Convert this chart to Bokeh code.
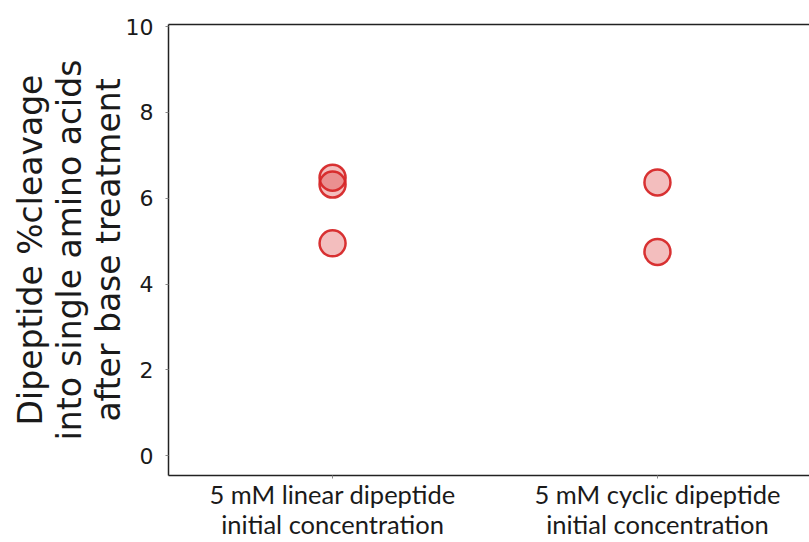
from bokeh.plotting import figure
from bokeh.models import FixedTicker, LinearAxis, Range1d
from bokeh.embed import file_html
from bokeh.resources import INLINE

# ---- data ----
categories = ["5 mM linear dipeptide\ninitial concentration",
              "5 mM cyclic dipeptide\ninitial concentration"]
category_pos = [0, 1]
linear_vals = [6.48, 6.32, 4.95]
cyclic_vals = [6.37, 4.75]
y_ticks = [0, 2, 4, 6, 8, 10]
y_title = "Dipeptide %cleavage\ninto single amino acids\nafter base treatment"

RED = "#d62728"
INK = "#1a1a1a"

p = figure(width=809, height=542, output_backend="svg", toolbar_location=None,
           x_range=Range1d(-0.505, 1.468), y_range=Range1d(-0.46, 10.05),
           min_border_left=168, min_border_right=0, min_border_top=24,
           min_border_bottom=65)
p.outline_line_color = None
p.grid.visible = False
p.background_fill_color = "white"
p.border_fill_color = "white"

xs = [category_pos[0]] * len(linear_vals) + [category_pos[1]] * len(cyclic_vals)
ys = linear_vals + cyclic_vals
p.scatter(xs, ys, size=26, fill_color=RED, fill_alpha=0.3,
          line_color=RED, line_alpha=0.95, line_width=2.5)

# x axis
xa = p.xaxis[0]
xa.ticker = FixedTicker(ticks=category_pos)
xa.major_label_overrides = {category_pos[i]: categories[i] for i in range(len(categories))}
xa.major_label_text_font = "Lato"
xa.major_label_text_font_size = "25.5px"
xa.major_label_text_color = INK
xa.major_label_text_line_height = 1.02
xa.major_label_standoff = 0
xa.major_tick_in = 0
xa.major_tick_out = 3
xa.major_tick_line_color = "#888888"
xa.minor_tick_line_color = None
xa.axis_line_color = "#222222"
xa.axis_line_width = 1.5

# y axis
ya = p.yaxis[0]
ya.ticker = FixedTicker(ticks=y_ticks)
ya.major_label_text_font = "DejaVu Sans"
ya.major_label_text_font_size = "22px"
ya.major_label_text_color = INK
ya.major_label_standoff = 12
ya.major_tick_in = 0
ya.major_tick_out = 3
ya.major_tick_line_color = "#888888"
ya.minor_tick_line_color = None
ya.axis_line_color = "#222222"
ya.axis_line_width = 1.5
ya.axis_label = y_title
ya.axis_label_text_font = "DejaVu Sans"
ya.axis_label_text_font_size = "33px"
ya.axis_label_text_font_style = "normal"
ya.axis_label_text_color = INK
ya.axis_label_text_line_height = 1.0
ya.axis_label_standoff = -5

# top spine
top = LinearAxis(ticker=FixedTicker(ticks=[]), major_tick_line_color=None,
                 minor_tick_line_color=None, axis_line_color="#222222",
                 axis_line_width=1.5)
p.add_layout(top, "above")

open("out.html", "w").write(file_html(p, INLINE))
